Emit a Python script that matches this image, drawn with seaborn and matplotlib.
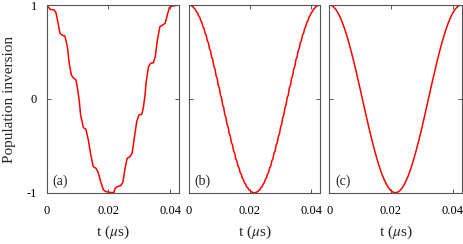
import numpy as np
import pandas as pd
import matplotlib
matplotlib.use("Agg")
import matplotlib.pyplot as plt
import seaborn as sns

# ---- data ----
t_a = [0.0, 0.0011, 0.0024, 0.0030, 0.0037, 0.0043, 0.0051, 0.0059, 0.0067, 0.0073,
       0.0080, 0.0086, 0.0095, 0.0099, 0.0105, 0.0110, 0.0119, 0.0127, 0.0135, 0.0143,
       0.0151, 0.0160, 0.0167, 0.0175, 0.0184, 0.0192, 0.0208, 0.0218, 0.0222, 0.0229,
       0.0240, 0.0247, 0.0254, 0.0261, 0.0270, 0.0277, 0.0284, 0.0292, 0.0299, 0.0308,
       0.0313, 0.0319, 0.0322, 0.0330, 0.0337, 0.0346, 0.0352, 0.0359, 0.0367, 0.0376,
       0.0384, 0.0391, 0.0398, 0.0406, 0.0416, 0.0427]
y_a = [1.000, 0.954, 0.947, 0.918, 0.805, 0.698, 0.677, 0.670, 0.556, 0.379,
       0.254, 0.225, 0.201, 0.129, -0.005, -0.172, -0.307, -0.324, -0.438, -0.598,
       -0.723, -0.740, -0.783, -0.883, -0.971, -0.989, -0.998, -0.998, -0.953, -0.936,
       -0.925, -0.889, -0.740, -0.633, -0.616, -0.580, -0.420, -0.243, -0.172, -0.165,
       -0.101, 0.041, 0.166, 0.343, 0.379, 0.385, 0.449, 0.627, 0.769, 0.787,
       0.805, 0.893, 0.975, 0.989, 0.993, 1.000]

y_b_first = [1.000, 0.998, 0.996, 0.986, 0.981, 0.963, 0.955, 0.929, 0.918, 0.886,
             0.872, 0.832, 0.816, 0.770, 0.751, 0.699, 0.678, 0.620, 0.598, 0.535,
             0.510, 0.443, 0.418, 0.347, 0.320, 0.247, 0.220, 0.145, 0.116, 0.040,
             0.012, -0.064, -0.093, -0.168, -0.196, -0.270, -0.298, -0.370, -0.396, -0.465,
             -0.490, -0.555, -0.578, -0.639, -0.660, -0.716, -0.735, -0.785, -0.802, -0.845,
             -0.860, -0.896, -0.909, -0.938, -0.947, -0.969, -0.976, -0.990, -0.993, -0.999,
             -1.000]
y_b_second = [-0.999, -0.993, -0.990, -0.976, -0.969, -0.947, -0.938, -0.909, -0.896, -0.860,
              -0.845, -0.802, -0.785, -0.735, -0.716, -0.660, -0.639, -0.578, -0.555, -0.490,
              -0.465, -0.396, -0.370, -0.298, -0.270, -0.196, -0.168, -0.093, -0.064, 0.012,
              0.040, 0.116, 0.145, 0.220, 0.247, 0.320, 0.347, 0.418, 0.443, 0.510,
              0.535, 0.598, 0.620, 0.678, 0.699, 0.751, 0.770, 0.816, 0.832, 0.872,
              0.886, 0.918, 0.929, 0.955, 0.963, 0.981, 0.986, 0.996, 0.998, 1.000]
y_b = y_b_first + y_b_second

y_c = [1.000, 0.995, 0.978, 0.951, 0.914, 0.866, 0.809, 0.743, 0.669, 0.588,
       0.500, 0.407, 0.309, 0.208, 0.105, 0.000, -0.105, -0.208, -0.309, -0.407,
       -0.500, -0.588, -0.669, -0.743, -0.809, -0.866, -0.914, -0.951, -0.978, -0.995,
       -1.000, -0.995, -0.978, -0.951, -0.914, -0.866, -0.809, -0.743, -0.669, -0.588,
       -0.500, -0.407, -0.309, -0.208, -0.105, 0.000, 0.105, 0.208, 0.309, 0.407,
       0.500, 0.588, 0.669, 0.743, 0.809, 0.866, 0.914, 0.951, 0.978, 0.995,
       1.000]

t_end = 0.0429
t_b = np.linspace(0, t_end, len(y_b))
t_c = np.linspace(0, t_end, len(y_c))

panel_labels = ["(a)", "(b)", "(c)"]
x_ticks = [0, 0.02, 0.04]
x_ticklabels = ["0", "0.02", "0.04"]
y_ticks = [-1, 0, 1]
y_ticklabels = ["-1", "0", "1"]

sns.set_style("ticks")
plt.rcParams["font.family"] = ["Liberation Serif", "DejaVu Serif"]
plt.rcParams["mathtext.fontset"] = "stix"
plt.rcParams["axes.unicode_minus"] = False

W, H = 463, 244
fig = plt.figure(figsize=(W / 100, H / 100), dpi=100)

lefts = [46.7, 188.7, 329.3]
widths = [132.3, 131.3, 132.2]
top_px, bot_px = 5.0, 192.7

data = [(t_a, y_a), (t_b, y_b), (t_c, y_c)]
spine_col = "#555555"
for i, ((tt, yy), lab) in enumerate(zip(data, panel_labels)):
    ax = fig.add_axes([lefts[i] / W, 1 - bot_px / H, widths[i] / W, (bot_px - top_px) / H])
    df = pd.DataFrame({"t": tt, "y": yy})
    sns.lineplot(data=df, x="t", y="y", ax=ax, color="red", linewidth=1.1,
                 sort=False, estimator=None)
    ax.set_xlim(0, t_end)
    ax.set_ylim(-1, 1)
    ax.set_xticks(x_ticks)
    ax.set_xticklabels(x_ticklabels)
    ax.set_yticks(y_ticks)
    if i == 0:
        ax.set_yticklabels(y_ticklabels)
    else:
        ax.set_yticklabels([])
    ax.tick_params(direction="in", length=3, width=0.7, top=True, right=True,
                   labelsize=9, colors=spine_col, labelcolor="black")
    ax.tick_params(axis="x", pad=9)
    ax.tick_params(axis="y", pad=7)
    for s in ax.spines.values():
        s.set_visible(True)
        s.set_color(spine_col)
        s.set_linewidth(0.8)
    ax.set_ylabel("")
    ax.set_xlabel(r"t ($\mu$s)", fontsize=11)
    ax.xaxis.set_label_coords(0.5, -0.165)
    ax.text(0.045, 0.059, lab, transform=ax.transAxes, ha="left", va="center",
            fontsize=10)

fig.text(10 / W, 1 - 99 / H, "Population inversion", rotation=90,
         ha="center", va="center", fontsize=11)

fig.savefig("out.png", dpi=100)
